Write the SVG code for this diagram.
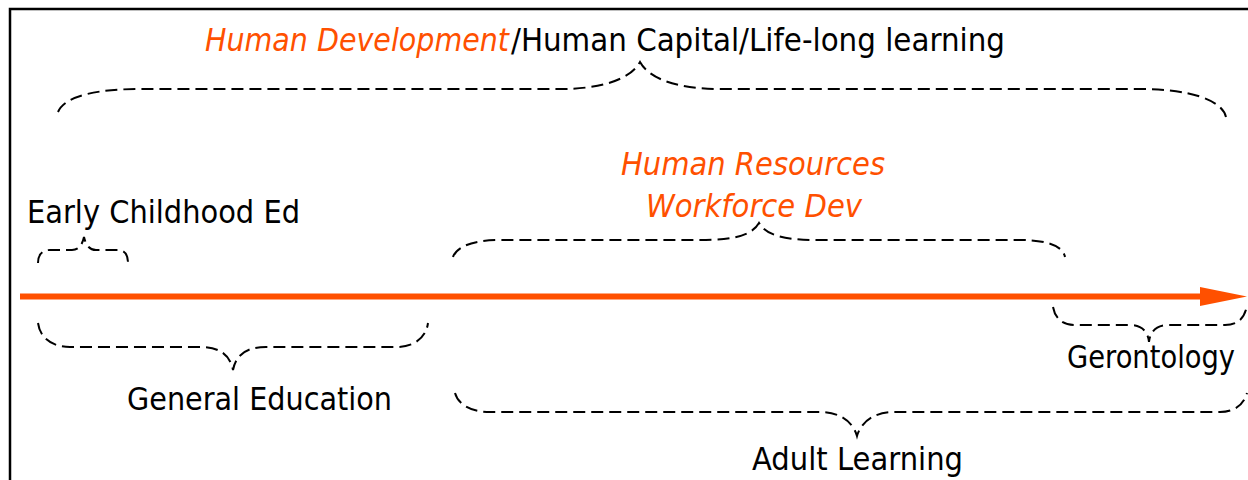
<svg xmlns="http://www.w3.org/2000/svg" width="1248" height="480" viewBox="0 0 1248 480">
<style>
.t{font-family:"DejaVu Sans","Liberation Sans",sans-serif;font-size:32px;fill:#000}
.o{fill:#FF5000;font-style:italic}
.b{fill:none;stroke:#000;stroke-width:2;stroke-dasharray:12 6}
</style>
<rect width="1248" height="480" fill="#fff"/>
<path d="M10,480 V9 H1248" fill="none" stroke="#000" stroke-width="2.5"/>
<g id="connectors">
<line x1="20" y1="296.5" x2="1204" y2="296.5" stroke="#FF5000" stroke-width="6"/>
<polygon points="1200,287 1247,296.5 1200,306" fill="#FF5000"/>
</g>
<g id="human-development">
<text class="t o" x="205" y="51" textLength="304" lengthAdjust="spacingAndGlyphs">Human Development</text>
<text class="t" x="511" y="51" textLength="494" lengthAdjust="spacingAndGlyphs">/Human Capital/Life-long learning</text>
<path class="b" d="M58,112 C65,95 100,89 140,89 L560,89 C600,89 630,80 640,62 C650,80 680,89 720,89 L1140,89 C1190,89 1222,100 1226,117"/>
</g>
<g id="human-resources">
<text class="t o" x="621" y="175" textLength="264" lengthAdjust="spacingAndGlyphs">Human Resources</text>
<text class="t o" x="646" y="217" textLength="216" lengthAdjust="spacingAndGlyphs">Workforce Dev</text>
<path class="b" d="M453,257 C456,248 470,240 500,240 L700,240 C735,240 752,235 759,223 C766,235 783,240 818,240 L1020,240 C1050,240 1063,247 1065,257"/>
</g>
<g id="early-childhood">
<text class="t" x="27" y="223" textLength="273" lengthAdjust="spacingAndGlyphs">Early Childhood Ed</text>
<path class="b" d="M38,263 C38,255 42,250 50,250 L72,250 C78,250 82,246 84,237 C86,246 90,250 96,250 L118,250 C125,250 128,255 128,263"/>
</g>
<g id="general-education">
<text class="t" x="127" y="410" textLength="265" lengthAdjust="spacingAndGlyphs">General Education</text>
<path class="b" d="M38,323 C40,338 52,347 70,347 L200,347 C220,347 230,355 233,370 C236,355 246,347 266,347 L396,347 C414,347 426,338 428,323"/>
</g>
<g id="gerontology">
<text class="t" x="1067" y="368" textLength="168" lengthAdjust="spacingAndGlyphs">Gerontology</text>
<path class="b" d="M1053,307 C1055,318 1062,325 1075,325 L1130,325 C1142,325 1148,332 1149,342 C1150,332 1156,325 1168,325 L1225,325 C1238,325 1245,318 1247,305"/>
</g>
<g id="adult-learning">
<text class="t" x="752" y="470" textLength="211" lengthAdjust="spacingAndGlyphs">Adult Learning</text>
<path class="b" d="M455,393 C458,404 470,412 490,412 L820,412 C840,412 853,422 857,436 C861,422 874,412 894,412 L1220,412 C1235,412 1244,404 1247,393"/>
</g>
</svg>
